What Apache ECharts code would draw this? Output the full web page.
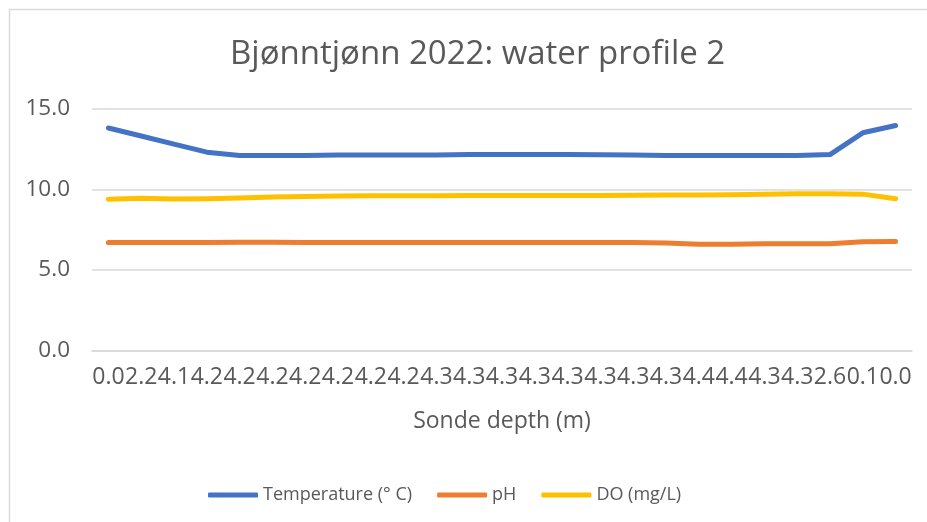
<!DOCTYPE html>
<html>
<head>
<meta charset="utf-8">
<script src="https://cdn.jsdelivr.net/npm/echarts@6/dist/echarts.min.js"></script>
<style>
  html, body { margin: 0; padding: 0; background: #fff; }
  #chart { width: 927px; height: 522px; }
</style>
</head>
<body>
<div id="chart"></div>
<script>
const depths = ['0.0', '2.2', '4.1', '4.2', '4.2', '4.2', '4.2', '4.2', '4.2', '4.2',
  '4.3', '4.3', '4.3', '4.3', '4.3', '4.3', '4.3', '4.3', '4.4', '4.4',
  '4.3', '4.3', '2.6', '0.1', '0.0']
const temperature = [13.8, 13.3, 12.8, 12.3, 12.1, 12.1, 12.1, 12.12, 12.12, 12.12,
  12.13, 12.15, 12.15, 12.16, 12.16, 12.14, 12.12, 12.1, 12.1, 12.1,
  12.1, 12.1, 12.15, 13.5, 13.95]
const ph = [6.7, 6.7, 6.7, 6.7, 6.72, 6.72, 6.7, 6.7, 6.7, 6.7,
  6.7, 6.7, 6.7, 6.7, 6.7, 6.7, 6.7, 6.67, 6.6, 6.6,
  6.62, 6.62, 6.62, 6.75, 6.76]
const dissolvedO2 = [9.38, 9.44, 9.4, 9.42, 9.46, 9.52, 9.56, 9.58, 9.6, 9.6,
  9.6, 9.62, 9.62, 9.62, 9.62, 9.62, 9.63, 9.64, 9.65, 9.66,
  9.7, 9.72, 9.72, 9.7, 9.42]
const yTicks = [0, 5, 10, 15]

const font = '"Open Sans", sans-serif'
const textColor = '#595959'

const chart = echarts.init(document.getElementById('chart'))

const lineSeries = (name, data, color) => ({
  name,
  type: 'line',
  data,
  symbol: 'none',
  lineStyle: { color, width: 5, cap: 'round', join: 'round' },
  itemStyle: { color }
})

chart.setOption({
  animation: false,
  backgroundColor: '#fff',
  textStyle: { fontFamily: font, color: textColor },
  graphic: [{
    type: 'rect',
    shape: { x: 9.5, y: 9.5, width: 1000, height: 1000 },
    style: { fill: 'none', stroke: '#D9D9D9', lineWidth: 1.5 },
    silent: true
  }],
  title: {
    text: 'Bjønntjønn 2022: water profile 2',
    left: 225,
    top: 33,
    textStyle: { fontFamily: font, fontSize: 33, fontWeight: 'normal', color: textColor }
  },
  legend: {
    top: 481,
    left: 203,
    icon: 'roundRect',
    itemWidth: 50,
    itemHeight: 5,
    itemGap: 25,
    textStyle: { fontFamily: font, fontSize: 18, color: textColor },
    data: ['Temperature (° C)', 'pH', 'DO (mg/L)']
  },
  grid: { left: 92, right: 15, top: 108.6, bottom: 171.3 },
  xAxis: {
    type: 'category',
    data: depths,
    boundaryGap: true,
    name: 'Sonde depth (m)',
    nameLocation: 'middle',
    nameGap: 59,
    nameTextStyle: { fontFamily: font, fontSize: 23, color: textColor },
    axisLine: { lineStyle: { color: '#D9D9D9', width: 1.5 } },
    axisTick: { show: false },
    axisLabel: { interval: 0, margin: 15, fontFamily: font, fontSize: 23, color: textColor }
  },
  yAxis: {
    type: 'value',
    min: yTicks[0],
    max: yTicks[yTicks.length - 1],
    interval: 5,
    axisLine: { show: false },
    axisTick: { show: false },
    splitLine: { lineStyle: { color: '#D9D9D9', width: 1.5 } },
    axisLabel: {
      margin: 22,
      fontFamily: font,
      fontSize: 22.5,
      color: textColor,
      formatter: v => v.toFixed(1)
    }
  },
  series: [
    lineSeries('Temperature (° C)', temperature, '#4472C4'),
    lineSeries('pH', ph, '#ED7D31'),
    lineSeries('DO (mg/L)', dissolvedO2, '#FFC000')
  ]
})
</script>
</body>
</html>
